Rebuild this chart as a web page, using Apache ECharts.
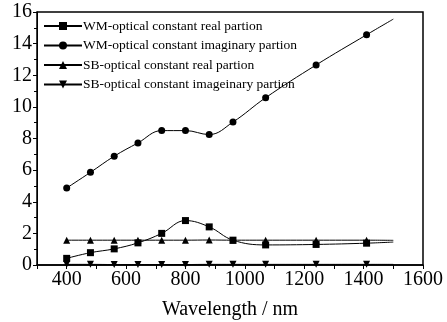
<!DOCTYPE html>
<html><head><meta charset="utf-8">
<script src="https://cdn.jsdelivr.net/npm/echarts@6/dist/echarts.min.js"></script>
<style>html,body{margin:0;padding:0;background:#fff}#c{width:447px;height:322px}</style>
</head><body><div id="c"></div>
<script>
const wavelength = [400, 480, 560, 640, 720, 800, 880, 960, 1070, 1240, 1410, 1500];
const wmReal = [0.42, 0.78, 1.02, 1.40, 2.00, 2.81, 2.41, 1.57, 1.27, 1.30, 1.38, 1.45];
const wmImag = [4.87, 5.86, 6.88, 7.72, 8.50, 8.50, 8.25, 9.04, 10.58, 12.65, 14.56, 15.55];
const sbReal = [1.57, 1.57, 1.57, 1.57, 1.57, 1.57, 1.58, 1.57, 1.57, 1.57, 1.57, 1.56];
const sbImag = [0.04, 0.04, 0.03, 0.03, 0.03, 0.03, 0.04, 0.04, 0.04, 0.04, 0.04, 0.04];
const xTickLabels = [400, 600, 800, 1000, 1200, 1400, 1600];
const yTickLabels = [0, 2, 4, 6, 8, 10, 12, 14, 16];
const names = ['WM-optical constant real partion','WM-optical constant imaginary partion','SB-optical constant real partion','SB-optical constant imageinary partion'];
const symbols = ['rect','circle','triangle','path://M0,0 L10,0 L5,10 Z'];
const seriesVals = [wmReal, wmImag, sbReal, sbImag];
const font = 'Liberation Serif';
const chart = echarts.init(document.getElementById('c'));
const last = wavelength.length - 1;
chart.setOption({
  animation:false,
  grid:{left:37,right:24,top:12,bottom:57,outerBoundsMode:'none',containLabel:false,
    show:true,borderColor:'#000',borderWidth:1.5,backgroundColor:'transparent'},
  legend:{orient:'vertical',left:38,top:14,itemWidth:38,itemHeight:10,itemGap:5.5,
    textStyle:{fontFamily:font,fontSize:13.5,lineHeight:14,color:'#000',padding:[0,0,0,-4]},
    data:names},
  xAxis:{type:'value',min:300,max:1600,interval:100,
    name:'Wavelength / nm',nameLocation:'middle',nameGap:35,
    nameTextStyle:{fontFamily:font,fontSize:20,color:'#000'},
    axisLine:{lineStyle:{color:'#000',width:1.5}},
    axisTick:{show:true,length:4,lineStyle:{color:'#000'}},
    splitLine:{show:false},
    axisLabel:{fontFamily:font,fontSize:20,color:'#000',margin:5,
      formatter:v=>xTickLabels.includes(v)?String(v):''}},
  yAxis:{type:'value',min:0,max:16,interval:2,
    axisLine:{show:true,lineStyle:{color:'#000',width:1}},
    axisTick:{show:true,length:4,lineStyle:{color:'#000'}},
    minorTick:{show:true,splitNumber:2,length:3,lineStyle:{color:'#000'}},
    splitLine:{show:false},
    axisLabel:{fontFamily:font,fontSize:20,color:'#000',margin:5,
      formatter:v=>yTickLabels.includes(v)?String(v):''}},
  series:seriesVals.map((vals,i)=>({
    name:names[i],type:'line',smooth:0.4,
    data:wavelength.map((w,j)=>j===last?{value:[w,vals[j]],symbol:'none'}:[w,vals[j]]),
    symbol:symbols[i],symbolSize:7,
    showSymbol:true,
    lineStyle:{color:'#000',width:1},itemStyle:{color:'#000'}
  }))
});
</script></body></html>
